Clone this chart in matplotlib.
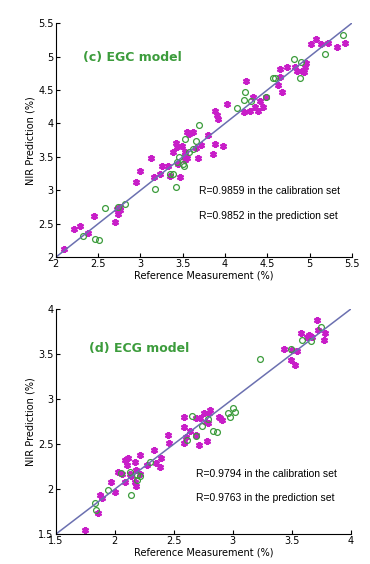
import numpy as np
import matplotlib
matplotlib.use("Agg")
import matplotlib.pyplot as plt

# (c) EGC model
egc_cal_x = [2.10, 2.22, 2.28, 2.38, 2.45, 2.70, 2.72, 2.76, 2.74, 2.76, 2.95, 2.99, 3.16, 3.13,
             3.23, 3.26, 3.33, 3.35, 3.39, 3.42, 3.43, 3.45, 3.47, 3.49, 3.53, 3.53, 3.55, 3.58,
             3.62, 3.66, 3.68, 3.72, 3.80, 3.86, 3.88, 3.90, 3.92, 3.88, 3.98, 4.02, 4.25, 4.23,
             4.29, 4.33, 4.35, 4.41, 4.45, 4.39, 4.49, 4.65, 4.63, 4.67, 4.65, 4.73, 4.83, 4.85,
             4.91, 4.93, 4.94, 4.96, 5.02, 5.08, 5.14, 5.22, 5.32, 5.42, 3.53, 3.55]
egc_cal_y = [2.12, 2.42, 2.47, 2.36, 2.61, 2.52, 2.72, 2.75, 2.65, 2.70, 3.12, 3.29, 3.20, 3.49,
             3.25, 3.37, 3.37, 3.22, 3.57, 3.70, 3.65, 3.40, 3.20, 3.67, 3.57, 3.52, 3.87, 3.84,
             3.87, 3.64, 3.49, 3.68, 3.82, 3.55, 4.19, 4.12, 4.07, 3.69, 3.67, 4.29, 4.64, 4.17,
             4.19, 4.39, 4.24, 4.34, 4.24, 4.19, 4.39, 4.69, 4.57, 4.47, 4.82, 4.84, 4.84, 4.79,
             4.79, 4.77, 4.84, 4.91, 5.19, 5.26, 5.19, 5.21, 5.14, 5.21, 3.45, 3.48]
egc_pre_x = [2.32, 2.46, 2.51, 2.58, 2.74, 2.82, 3.17, 3.35, 3.39, 3.42, 3.43, 3.46, 3.50, 3.51,
             3.53, 3.58, 3.62, 3.66, 3.69, 4.14, 4.22, 4.24, 4.31, 4.49, 4.57, 4.59, 4.81, 4.90,
             4.89, 5.18, 5.39]
egc_pre_y = [2.32, 2.27, 2.26, 2.74, 2.75, 2.80, 3.02, 3.25, 3.24, 3.05, 3.43, 3.50, 3.39, 3.37,
             3.77, 3.57, 3.62, 3.73, 3.98, 4.23, 4.35, 4.47, 4.34, 4.39, 4.68, 4.68, 4.96, 4.92,
             4.68, 5.04, 5.32]
egc_fit = (1.0, 0.0)
egc_r = ["R=0.9859 in the calibration set", "R=0.9852 in the prediction set"]

# (d) ECG model
ecg_cal_x = [1.75, 1.86, 1.87, 1.89, 1.97, 2.00, 2.03, 2.06, 2.09, 2.10, 2.11, 2.13, 2.14, 2.17,
             2.18, 2.18, 2.21, 2.17, 2.09, 2.21, 2.27, 2.33, 2.35, 2.39, 2.38, 2.45, 2.46, 2.59,
             2.60, 2.59, 2.64, 2.69, 2.69, 2.71, 2.72, 2.76, 2.77, 2.78, 2.79, 2.80, 2.81, 2.88,
             2.89, 2.91, 2.59, 3.43, 3.50, 3.49, 3.53, 3.54, 3.58, 3.63, 3.65, 3.67, 3.71, 3.72,
             3.77, 3.78]
ecg_cal_y = [1.55, 1.74, 1.93, 1.90, 2.08, 1.97, 2.19, 2.17, 2.32, 2.27, 2.34, 2.17, 2.14, 2.30,
             2.21, 2.04, 2.38, 2.08, 2.08, 2.17, 2.27, 2.43, 2.29, 2.34, 2.25, 2.60, 2.51, 2.51,
             2.58, 2.69, 2.64, 2.79, 2.60, 2.49, 2.79, 2.84, 2.75, 2.53, 2.73, 2.84, 2.88, 2.80,
             2.79, 2.77, 2.80, 3.56, 3.54, 3.43, 3.38, 3.53, 3.73, 3.69, 3.71, 3.69, 3.88, 3.77,
             3.66, 3.73]
ecg_pre_x = [1.83, 1.84, 1.94, 2.05, 2.13, 2.14, 2.19, 2.21, 2.19, 2.30, 2.61, 2.65, 2.69, 2.74,
             2.79, 2.83, 2.87, 2.96, 2.98, 3.00, 3.02, 3.23, 3.49, 3.59, 3.66, 3.75]
ecg_pre_y = [1.85, 1.77, 1.99, 2.18, 2.19, 1.94, 2.16, 2.14, 2.10, 2.30, 2.54, 2.81, 2.59, 2.70,
             2.78, 2.65, 2.63, 2.84, 2.80, 2.90, 2.86, 3.44, 3.56, 3.66, 3.64, 3.80]
ecg_fit = (1.0, 0.0)
ecg_r = ["R=0.9794 in the calibration set", "R=0.9763 in the prediction set"]

mag = '#c81ec8'
grn = '#3c9c3c'
blu = '#6b70b0'


def panel(ax, cx, cy, px, py, fit, lim, ticks, title, tpos, rtxt, rpos):
    ax.plot(cx, cy, linestyle='none', marker=(6, 2, 0), markersize=5,
            markeredgewidth=1.6, color=mag)
    ax.plot(px, py, linestyle='none', marker='o', markersize=4.2,
            markerfacecolor='none', markeredgewidth=0.9, color=grn)
    xs = np.array(lim)
    ax.plot(xs, fit[0] * xs + fit[1], color=blu, lw=1.1)
    ax.set_xlim(lim)
    ax.set_ylim(lim)
    ax.set_xticks(ticks)
    ax.set_yticks(ticks)
    ax.set_xticklabels([f'{t:g}' for t in ticks])
    ax.set_yticklabels([f'{t:g}' for t in ticks])
    ax.tick_params(direction='in', length=3, labelsize=7, pad=1.5)
    for s in ['top', 'right']:
        ax.spines[s].set_visible(False)
    for s in ['left', 'bottom']:
        ax.spines[s].set_linewidth(0.8)
    ax.set_xlabel('Reference Measurement (%)', fontsize=7, labelpad=1)
    ax.set_ylabel('NIR Prediction (%)', fontsize=7, labelpad=2)
    ax.text(tpos[0], tpos[1], title, color=grn, fontsize=9, fontweight='bold',
            va='center', ha='left')
    ax.text(rpos[0], rpos[1][0], rtxt[0], fontsize=7.5, va='center', ha='left',
            family='Liberation Sans')
    ax.text(rpos[0], rpos[1][1], rtxt[1], fontsize=7.5, va='center', ha='left',
            family='Liberation Sans')


fig = plt.figure(figsize=(3.7, 5.64), dpi=100)
ax1 = fig.add_axes([0.151, 0.544, 0.80, 0.415])
ax2 = fig.add_axes([0.151, 0.053, 0.797, 0.399])

panel(ax1, egc_cal_x, egc_cal_y, egc_pre_x, egc_pre_y, egc_fit, [2, 5.5],
      [2, 2.5, 3, 3.5, 4, 4.5, 5, 5.5], '(c) EGC model', (2.32, 4.99),
      egc_r, (3.69, (2.99, 2.62)))
panel(ax2, ecg_cal_x, ecg_cal_y, ecg_pre_x, ecg_pre_y, ecg_fit, [1.5, 4],
      [1.5, 2, 2.5, 3, 3.5, 4], '(d) ECG model', (1.78, 3.56),
      ecg_r, (2.69, (2.17, 1.90)))

fig.savefig('out.png', dpi=100)
